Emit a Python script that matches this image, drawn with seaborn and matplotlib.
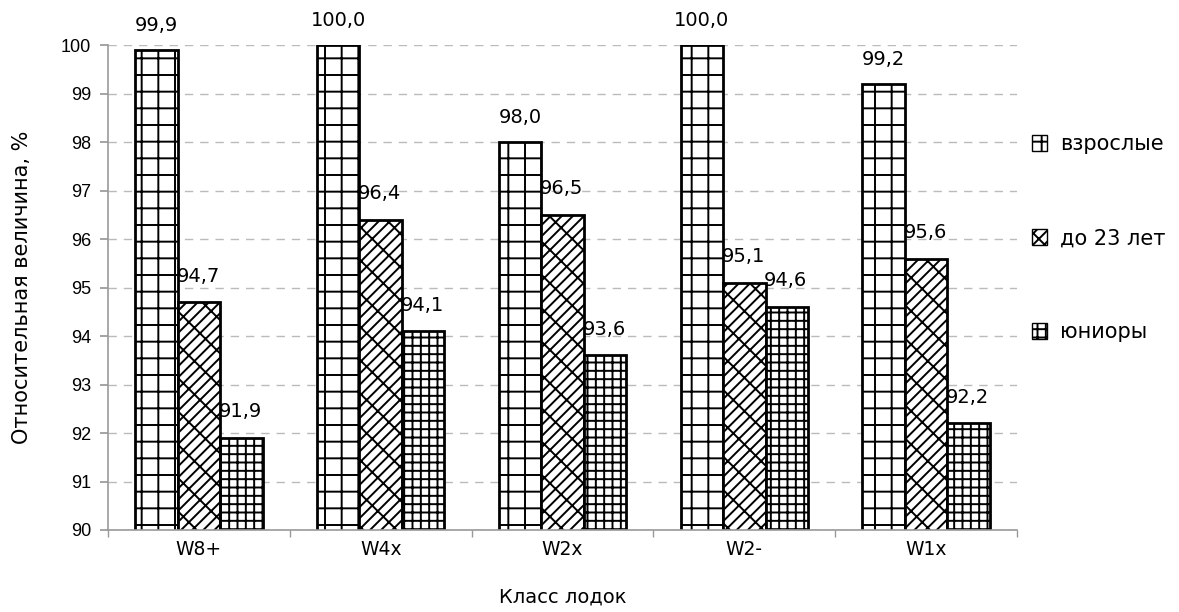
import matplotlib
matplotlib.use("Agg")
import matplotlib.pyplot as plt
import seaborn as sns
import pandas as pd
import numpy as np
from matplotlib.patches import Patch

categories = ["W8+", "W4x", "W2x", "W2-", "W1x"]
groups = ["взрослые", "до 23 лет", "юниоры"]
adults = [99.9, 100.0, 98.0, 100.0, 99.2]
under23 = [94.7, 96.4, 96.5, 95.1, 95.6]
juniors = [91.9, 94.1, 93.6, 94.6, 92.2]
yticks = list(range(90, 101))

rows = []
for g, vals in zip(groups, [adults, under23, juniors]):
    for c, v in zip(categories, vals):
        rows.append({"Класс лодок": c, "group": g, "value": v})
df = pd.DataFrame(rows)

sns.set_theme(style="white")
plt.rcParams["font.family"] = ["DejaVu Sans"]
plt.rcParams["hatch.linewidth"] = 1.4
plt.rcParams["hatch.color"] = "black"
for k in ["text.color", "axes.labelcolor", "xtick.labelcolor", "ytick.labelcolor"]:
    plt.rcParams[k] = "black"

fig = plt.figure(figsize=(11.79, 6.12), dpi=100)
ax = fig.add_axes([0.0916, 0.134, 0.771, 0.792])

sns.barplot(data=df, x="Класс лодок", y="value", hue="group", hue_order=groups,
            order=categories, palette=["white"] * 3, edgecolor="black",
            linewidth=2.0, width=0.7, ax=ax, legend=False, errorbar=None)

hatches = ["+", "//x", "++"]
for i, (cont, h) in enumerate(zip(ax.containers, hatches)):
    for p in cont:
        p.set_hatch(h)
        p.set_edgecolor("black")
        p.set_facecolor("white")
        top = p.get_y() + p.get_height()
        txt = f"{top:.1f}".replace(".", ",")
        if i == 0:
            ax.annotate(txt, xy=(p.get_x() + p.get_width() / 2, top),
                        xytext=(0, 11), textcoords="offset points",
                        ha="center", va="bottom", fontsize=14, color="black")
        else:
            ax.annotate(txt, xy=(p.get_x(), top),
                        xytext=(-1, 12), textcoords="offset points",
                        ha="left", va="bottom", fontsize=14, color="black")

ax.set_ylim(90, 100)
ax.set_yticks(yticks)
ax.set_yticklabels([str(t) for t in yticks], fontsize=13, family="Liberation Sans")
ax.set_xlim(-0.5, len(categories) - 0.5)
ax.tick_params(axis="x", which="major", length=0, labelsize=13.5, pad=7)
ax.set_xticks(np.arange(len(categories) + 1) - 0.5, minor=True)
ax.tick_params(axis="x", which="minor", length=5, color="#999999", direction="out", bottom=True)
ax.tick_params(axis="y", length=6, color="#999999", direction="out", left=True, pad=6)
ax.yaxis.grid(True, linestyle=(0, (6, 5)), color="#bbbbbb", linewidth=1)
ax.set_axisbelow(True)
for s in ["top", "right"]:
    ax.spines[s].set_visible(False)
for s in ["left", "bottom"]:
    ax.spines[s].set_color("#999999")
    ax.spines[s].set_linewidth(1.2)

ax.set_xlabel("Класс лодок", fontsize=14, labelpad=21, color="black")
ax.set_ylabel("Относительная величина, %", fontsize=15, labelpad=21, color="black")

handles = [Patch(facecolor="white", edgecolor="black", hatch=h, label=g)
           for g, h in zip(groups, hatches)]
leg = ax.legend(handles=handles, loc="center left", bbox_to_anchor=(1.016, 0.602),
                frameon=False, fontsize=15, labelspacing=3.55, handlelength=0.75,
                handleheight=0.75, handletextpad=0.6, borderpad=0, borderaxespad=0)
for t in leg.get_texts():
    t.set_color("black")

fig.savefig("out.png", dpi=100)
